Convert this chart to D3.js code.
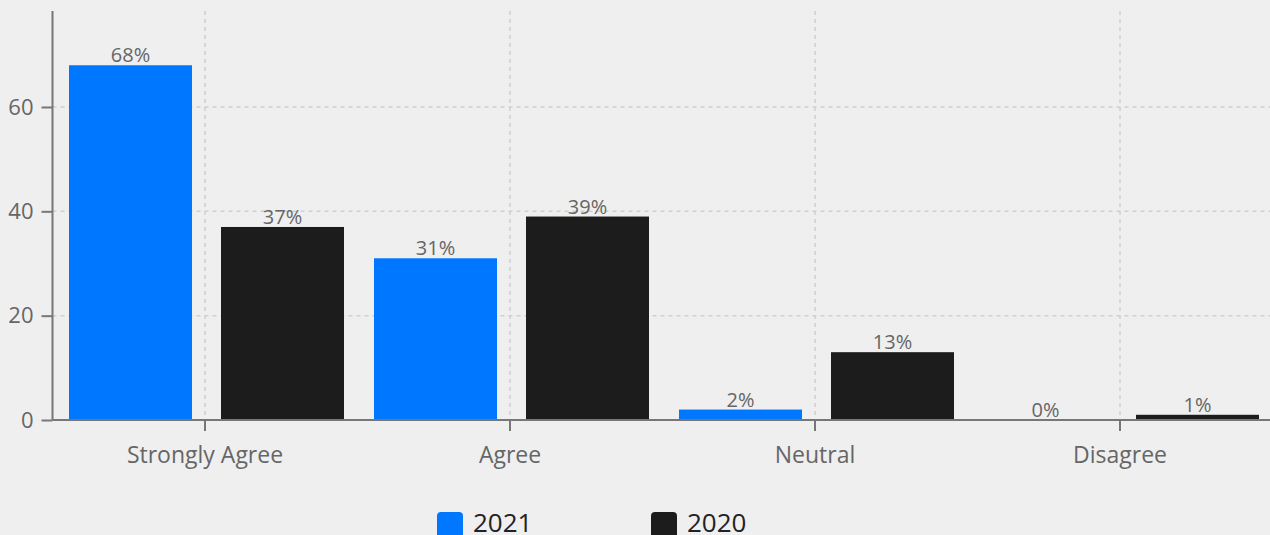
<!DOCTYPE html>
<html>
<head>
<meta charset="utf-8">
<script src="https://cdn.jsdelivr.net/npm/d3@7"></script>
<style>
  html, body { margin: 0; padding: 0; background: #efefef; }
  svg { display: block; font-family: "Open Sans", sans-serif; }
</style>
</head>
<body>
<svg id="chart" width="1270" height="535"></svg>
<script>
const categories = ["Strongly Agree", "Agree", "Neutral", "Disagree"];
const seriesNames = ["2021", "2020"];
const values2021 = [68, 31, 2, 0];
const values2020 = [37, 39, 13, 1];
const yTicks = [0, 20, 40, 60];
const colors = ["#0077ff", "#1c1c1c"];

(function () {
const seriesValues = [values2021, values2020];
const svg = d3.select("#chart");
const W = 1270, H = 535;
const mLeft = 52.5, mRight = 1272.5, mTop = 11, mBottom = 420;

const x0 = d3.scaleBand().domain(categories).range([mLeft, mRight]).paddingInner(0).paddingOuter(0);
const bw = x0.bandwidth();
const x1 = d3.scaleBand().domain(seriesNames).range([16.5, 291.5]).paddingInner(0.1908).paddingOuter(0);
const y = d3.scaleLinear().domain([0, 78.4]).range([mBottom, mTop]);

// grid
const grid = svg.append("g");
grid.selectAll("line.h").data(yTicks.filter(t => t > 0)).join("line")
  .attr("x1", mLeft).attr("x2", W).attr("y1", d => y(d)).attr("y2", d => y(d))
  .attr("stroke", "#cfcfcf").attr("stroke-width", 1.5).attr("stroke-dasharray", "4,4");
grid.selectAll("line.v").data(categories).join("line")
  .attr("x1", d => x0(d) + bw / 2).attr("x2", d => x0(d) + bw / 2)
  .attr("y1", mTop).attr("y2", mBottom)
  .attr("stroke", "#cfcfcf").attr("stroke-width", 1.5).attr("stroke-dasharray", "4,4");

// bars
const rows = categories.map((c, i) => ({ c, vals: seriesNames.map((s, j) => ({ s, j, v: seriesValues[j][i] })) }));
const g = svg.append("g").selectAll("g").data(rows).join("g")
  .attr("transform", d => `translate(${x0(d.c)},0)`);
g.selectAll("rect").data(d => d.vals).join("rect")
  .attr("x", d => x1(d.s)).attr("width", x1.bandwidth())
  .attr("y", d => y(d.v)).attr("height", d => y(0) - y(d.v))
  .attr("fill", d => colors[d.j]);
g.selectAll("text").data(d => d.vals).join("text")
  .attr("x", d => x1(d.s) + x1.bandwidth() / 2).attr("y", d => y(d.v) - 3)
  .attr("text-anchor", "middle").attr("font-size", 20).attr("fill", "#666")
  .text(d => d.v + "%");

// axes
const yAxis = svg.append("g").attr("transform", `translate(${mLeft},0)`)
  .call(d3.axisLeft(y).tickValues(yTicks).tickSize(11).tickPadding(8));
const xAxis = svg.append("g").attr("transform", `translate(0,${mBottom})`)
  .call(d3.axisBottom(x0).tickSize(11).tickPadding(16));
[yAxis, xAxis].forEach(a => {
  a.select(".domain").attr("stroke", "#777").attr("stroke-width", 2);
  a.selectAll(".tick line").attr("stroke", "#777").attr("stroke-width", 2);
  a.selectAll(".tick text").attr("fill", "#666").attr("font-family", "Open Sans, sans-serif");
});
yAxis.selectAll(".tick text").attr("font-size", 22);
xAxis.selectAll(".tick text").attr("font-size", 23);
yAxis.select(".domain").attr("d", `M0,${mTop}V${mBottom}`);
xAxis.select(".domain").attr("d", `M${mLeft},0H${W}`);

// legend
const legendX = [437, 651];
const lg = svg.append("g").selectAll("g").data(seriesNames).join("g")
  .attr("transform", (d, i) => `translate(${legendX[i]},512)`);
lg.append("rect").attr("width", 26).attr("height", 26).attr("rx", 4).attr("fill", (d, i) => colors[i]);
lg.append("text").attr("x", 36).attr("y", 20).attr("font-size", 26).attr("fill", "#222").text(d => d);
})();
</script>
</body>
</html>
